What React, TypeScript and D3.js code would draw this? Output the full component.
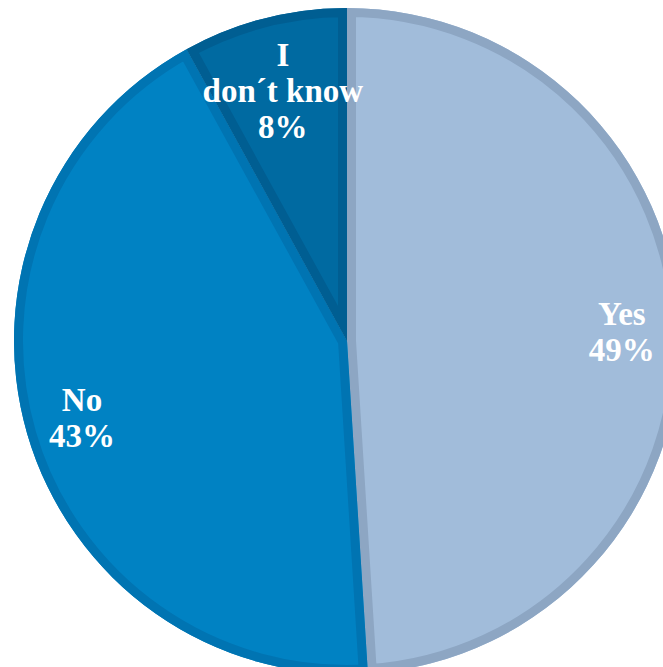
import React from "react";
import * as d3 from "d3";

const categories = ["Yes", "No", "I\u00A0don\u00B4t know"];
const labelLines = [["Yes", "49%"], ["No", "43%"], ["I", "don\u00B4t know", "8%"]];
const values = [49, 43, 8];
const fills = ["#a1bcda", "#0082c3", "#006aa1"];
const bands = ["#8da6c3", "#0074b2", "#005e92"];
const labelRadius = [275, 276, 258];

const W = 663;
const H = 667;
const cx = 347;
const cy = 341;
const R = 333;
const BAND = 9;
const FS = 33;
const LH = 36;

export default function App() {
  const pie = d3.pie<number>().sort(null).value((d) => d);
  const arcs = pie(values);
  const arc = d3.arc<d3.PieArcDatum<number>>().innerRadius(0).outerRadius(R);

  return (
    <svg
      width={W}
      height={H}
      style={{ position: "absolute", left: 0, top: 0, display: "block" }}
    >
      <rect width={W} height={H} fill="#ffffff" />
      <defs>
        {arcs.map((a, i) => (
          <clipPath id={`clip${i}`} key={i}>
            <path d={arc(a) || ""} />
          </clipPath>
        ))}
      </defs>
      <g transform={`translate(${cx},${cy})`}>
        {arcs.map((a, i) => (
          <g key={i}>
            <path d={arc(a) || ""} fill={fills[i]} />
            <path
              d={arc(a) || ""}
              fill="none"
              stroke={bands[i]}
              strokeWidth={BAND * 2}
              strokeLinejoin="miter"
              clipPath={`url(#clip${i})`}
            />
          </g>
        ))}
        {arcs.map((a, i) => {
          const mid = (a.startAngle + a.endAngle) / 2;
          const lr = labelRadius[i];
          const x = lr * Math.sin(mid);
          const y = -lr * Math.cos(mid);
          const lines = labelLines[i];
          const first = y - ((lines.length - 1) / 2) * LH + FS * 0.33;
          return (
            <text
              key={categories[i]}
              x={x}
              textAnchor="middle"
              fill="#ffffff"
              fontFamily="'Liberation Serif', 'Times New Roman', serif"
              fontWeight="bold"
              fontSize={FS}
            >
              {lines.map((l, j) => (
                <tspan key={j} x={x} y={first + j * LH}>
                  {l}
                </tspan>
              ))}
            </text>
          );
        })}
      </g>
    </svg>
  );
}
